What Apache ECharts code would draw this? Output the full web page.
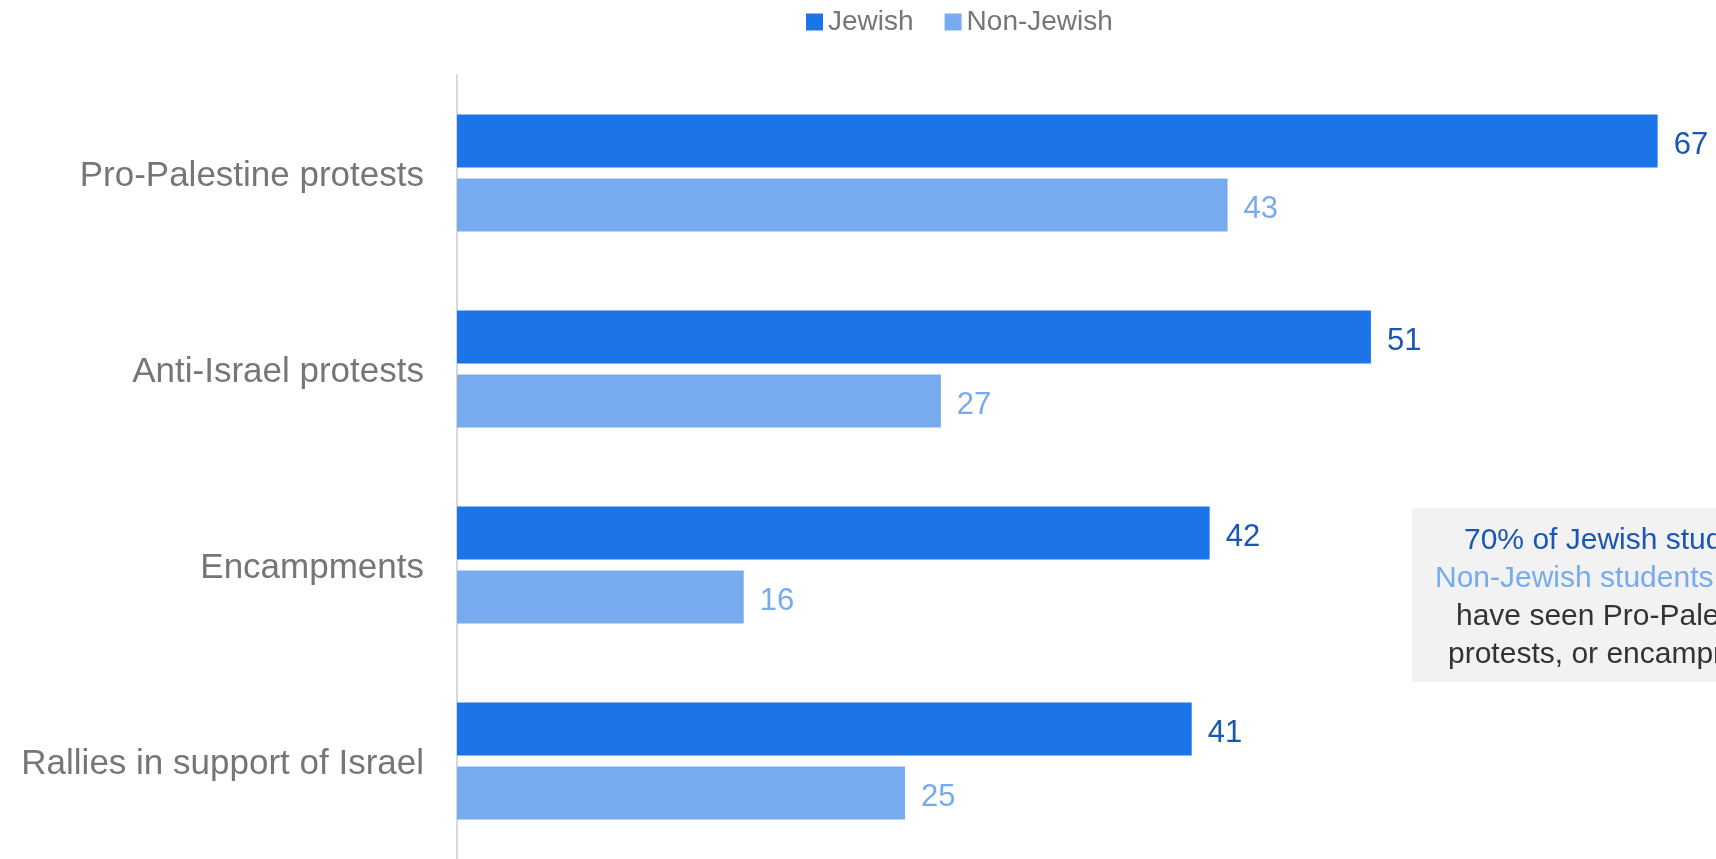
<!DOCTYPE html>
<html>
<head>
<meta charset="utf-8">
<script src="https://cdn.jsdelivr.net/npm/echarts@6/dist/echarts.min.js"></script>
<style>
html,body{margin:0;padding:0;background:#fff;}
#chart{width:1716px;height:859px;}
</style>
</head>
<body>
<div id="chart"></div>
<script>
const categories = ["Pro-Palestine protests", "Anti-Israel protests", "Encampments", "Rallies in support of Israel"];
const jewish = [67, 51, 42, 41];
const nonJewish = [43, 27, 16, 25];
const seriesNames = ["Jewish", "Non-Jewish"];
const noteLines = ["70% of Jewish students", "Non-Jewish students", "have seen Pro-Palestine,", "protests, or encampments"];

const FONT = "'Liberation Sans', Arial, sans-serif";
const C_J = "#1b74e8", C_N = "#78aaf0", C_JL = "#1a56b4";

const chart = echarts.init(document.getElementById('chart'), null, {renderer: 'canvas'});
chart.setOption({
  animation: false,
  textStyle: {fontFamily: FONT},
  legend: {
    data: seriesNames,
    left: 801, top: 3,
    itemWidth: 17, itemHeight: 17, itemGap: 31,
    icon: 'rect',
    textStyle: {color: '#767676', fontSize: 28, fontFamily: FONT}
  },
  grid: {left: 457, top: 75, width: 1254.4, height: 788, containLabel: false},
  xAxis: {
    type: 'value', min: 0, max: 70,
    show: false
  },
  yAxis: {
    type: 'category', data: categories, inverse: true,
    axisLine: {show: true, lineStyle: {color: '#d9d9d9', width: 2}},
    axisTick: {show: false},
    axisLabel: {
      color: '#767676', fontSize: 35, margin: 33, fontFamily: FONT,
      formatter: function (v) { return '{c|' + v + '}'; },
      rich: {c: {color: '#767676', fontSize: 35, fontFamily: FONT, padding: [7, 0, 0, 0]}}
    }
  },
  series: [
    {
      name: seriesNames[0], type: 'bar', data: jewish,
      barWidth: 53, barGap: '20.75%',
      itemStyle: {color: C_J},
      label: {show: true, position: 'right', distance: 16, color: C_JL, fontSize: 31, fontFamily: FONT, offset: [0, 4]}
    },
    {
      name: seriesNames[1], type: 'bar', data: nonJewish,
      barWidth: 53,
      itemStyle: {color: C_N},
      label: {show: true, position: 'right', distance: 16, color: C_N, fontSize: 31, fontFamily: FONT, offset: [0, 4]}
    }
  ],
  graphic: [
    {type: 'rect', shape: {x: 1412, y: 508, width: 420, height: 174}, style: {fill: '#f2f2f2'}, z: 10},
    {type: 'text', x: 1464, y: 541, style: {text: noteLines[0], fill: C_JL, font: "30px " + FONT, textVerticalAlign: 'middle'}, z: 11},
    {type: 'text', x: 1435, y: 579, style: {text: noteLines[1], fill: C_N, font: "30px " + FONT, textVerticalAlign: 'middle'}, z: 11},
    {type: 'text', x: 1456, y: 617, style: {text: noteLines[2], fill: '#333333', font: "30px " + FONT, textVerticalAlign: 'middle'}, z: 11},
    {type: 'text', x: 1448, y: 655, style: {text: noteLines[3], fill: '#333333', font: "30px " + FONT, textVerticalAlign: 'middle'}, z: 11}
  ]
});
</script>
</body>
</html>
